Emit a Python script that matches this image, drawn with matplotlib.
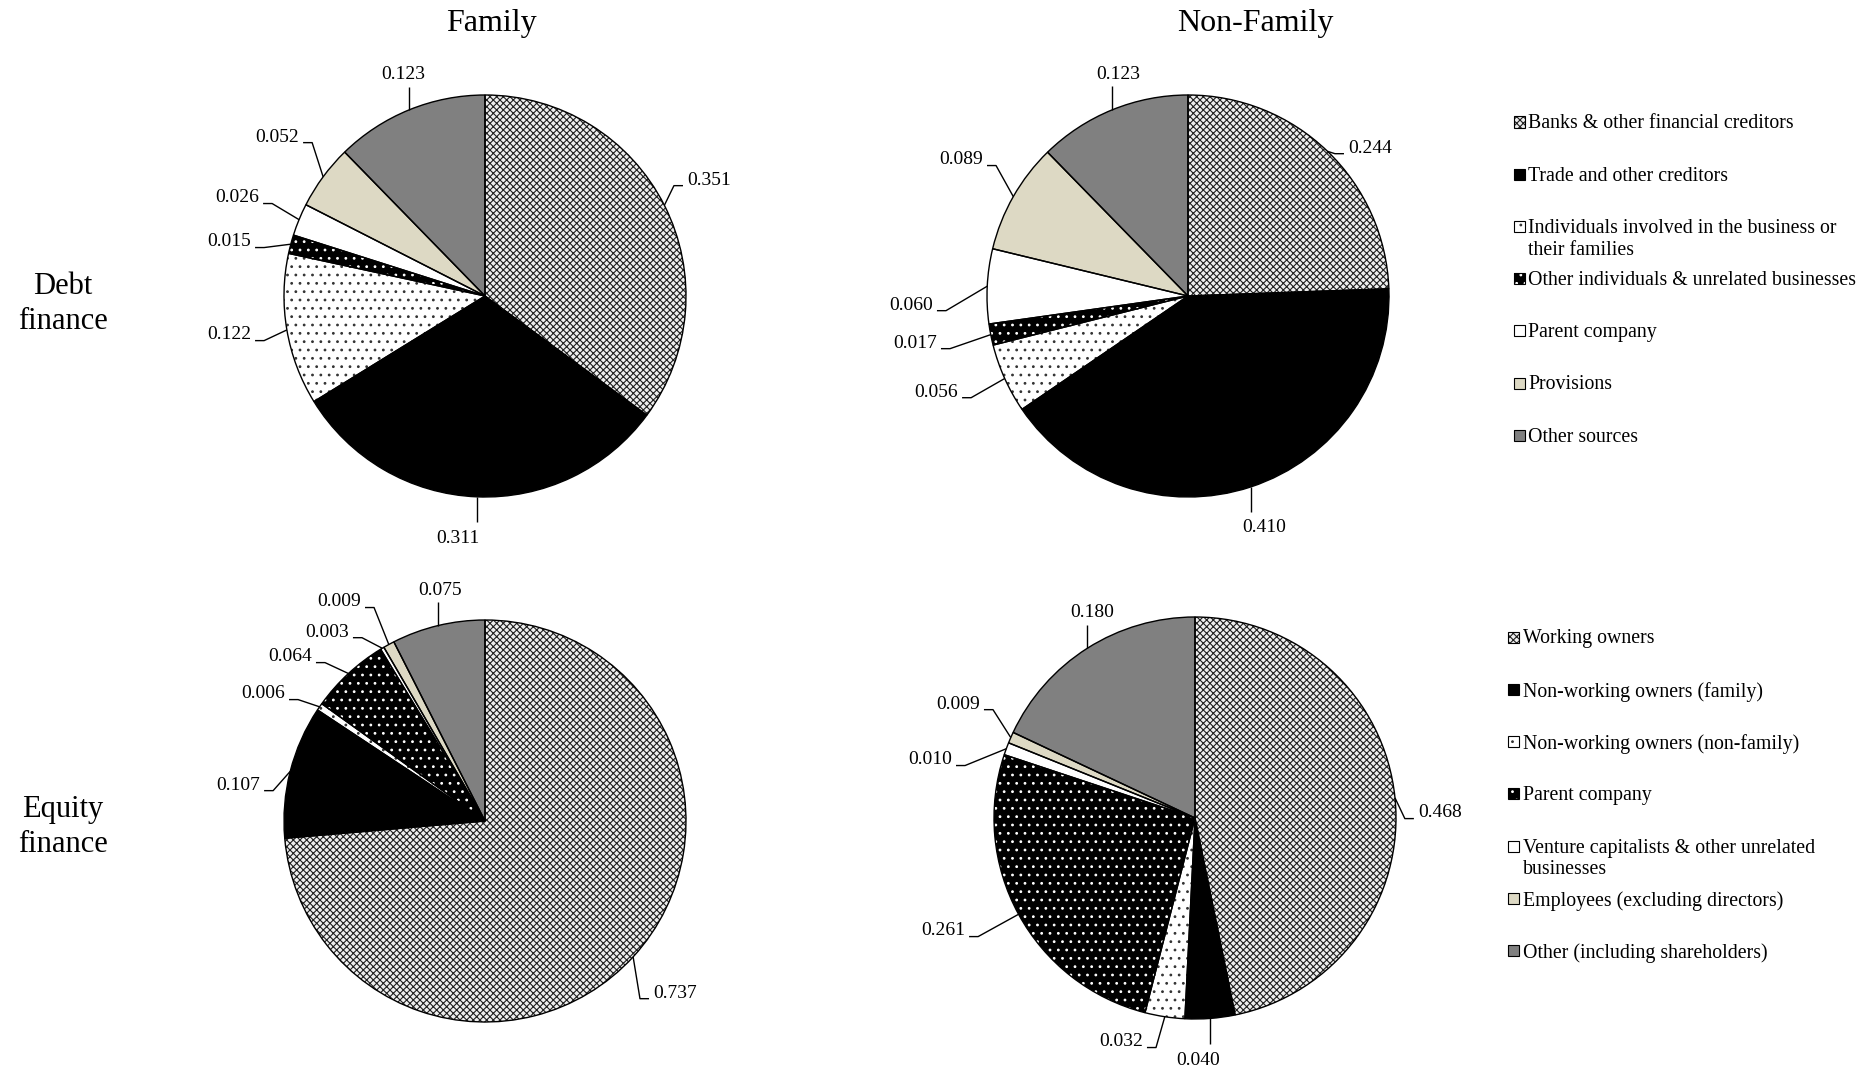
import matplotlib
matplotlib.use("Agg")
import matplotlib.pyplot as plt
from matplotlib.patches import Rectangle
import numpy as np

plt.rcParams['font.family'] = ['Liberation Serif', 'DejaVu Serif']
plt.rcParams['hatch.linewidth'] = 0.8

# ---------------------------------------------------------------- data
debt_categories = [
    "Banks & other financial creditors",
    "Trade and other creditors",
    "Individuals involved in the business or\ntheir families",
    "Other individuals & unrelated businesses",
    "Parent company",
    "Provisions",
    "Other sources",
]
equity_categories = [
    "Working owners",
    "Non-working owners (family)",
    "Non-working owners (non-family)",
    "Parent company",
    "Venture capitalists & other unrelated\nbusinesses",
    "Employees (excluding directors)",
    "Other (including shareholders)",
]
debt_family = [0.351, 0.311, 0.122, 0.015, 0.026, 0.052, 0.123]
debt_nonfamily = [0.244, 0.410, 0.056, 0.017, 0.060, 0.089, 0.123]
equity_family = [0.737, 0.107, 0.006, 0.064, 0.003, 0.009, 0.075]
equity_nonfamily = [0.468, 0.040, 0.032, 0.261, 0.010, 0.009, 0.180]

column_titles = ["Family", "Non-Family"]
row_titles = ["Debt\nfinance", "Equity\nfinance"]

# ---------------------------------------------------------------- styling
# fill, hatch, hatch colour for each slice position (shared by both legends)
slice_styles = [
    ("#eeeeee", "xxxxx", "#202020"),
    ("black", None, None),
    ("white", "..", "#333333"),
    ("black", "..", "white"),
    ("white", None, None),
    ("#ddd9c4", None, None),
    ("#808080", None, None),
]

# value-label placement, in units of pie radius (x, y, alignment)
debt_family_layout = [(1.005, 0.577, 'left'), (-0.134, -1.204, 'center'),
                      (-1.164, -0.194, 'right'), (-1.164, 0.269, 'right'),
                      (-1.124, 0.488, 'right'), (-0.925, 0.791, 'right'),
                      (-0.408, 1.10, 'center')]
debt_nonfamily_layout = [(0.796, 0.736, 'left'), (0.378, -1.154, 'center'),
                         (-1.144, -0.478, 'right'), (-1.249, -0.234, 'right'),
                         (-1.269, -0.045, 'right'), (-1.020, 0.677, 'right'),
                         (-0.348, 1.104, 'center')]
equity_family_layout = [(0.836, -0.856, 'left'), (-1.119, 0.179, 'right'),
                        (-0.995, 0.632, 'right'), (-0.861, 0.816, 'right'),
                        (-0.677, 0.940, 'right'), (-0.617, 1.090, 'right'),
                        (-0.224, 1.149, 'center')]
equity_nonfamily_layout = [(1.109, 0.025, 'left'), (0.015, -1.204, 'center'),
                           (-0.259, -1.114, 'right'), (-1.144, -0.562, 'right'),
                           (-1.209, 0.289, 'right'), (-1.070, 0.567, 'right'),
                           (-0.512, 1.020, 'center')]

W, H = 1869, 1070
R_PX = 201
SPAN = 1.6
fig = plt.figure(figsize=(W / 100, H / 100), dpi=100)


def fx(x):
    return x / W


def fy(y):
    return 1 - y / H


def style_patch(p, style):
    face, hatch, hcol = style
    p.set_facecolor(face)
    p.set_linewidth(0)
    if hatch:
        p.set_hatch(hatch)
        p.set_edgecolor(hcol)
    else:
        p.set_edgecolor('none')


def draw_pie(cx, cy, values, layout):
    half = SPAN * R_PX
    ax = fig.add_axes([(cx - half) / W, (H - cy - half) / H, 2 * half / W, 2 * half / H])
    fills, _ = ax.pie(values, startangle=90, counterclock=False, radius=1)
    for w, st in zip(fills, slice_styles):
        style_patch(w, st)
    outlines, _ = ax.pie(values, startangle=90, counterclock=False, radius=1,
                         wedgeprops=dict(fill=False, edgecolor='black', linewidth=1.0))
    ax.set_xlim(-SPAN, SPAN)
    ax.set_ylim(-SPAN, SPAN)
    ax.axis('off')

    for w, v, (lx, ly, ha) in zip(outlines, values, layout):
        ang = np.deg2rad((w.theta1 + w.theta2) / 2)
        px, py = np.cos(ang), np.sin(ang)
        ax.text(lx, ly, f"{v:.3f}", ha=ha, va='center', fontsize=14, clip_on=False)
        if ha == 'center':
            end_y = ly - 0.06 if ly > 0 else ly + 0.08
            xs, ys = [px, px], [py, end_y]
        else:
            sy = ly - 0.028
            sgn = 1 if ha == 'right' else -1
            xs = [px, lx + sgn * 0.065, lx + sgn * 0.02]
            ys = [py, sy, sy]
        ax.plot(xs, ys, color='black', lw=1.0, clip_on=False, solid_capstyle='butt')
    return ax


draw_pie(485, 296, debt_family, debt_family_layout)
draw_pie(1188, 296, debt_nonfamily, debt_nonfamily_layout)
draw_pie(485, 821, equity_family, equity_family_layout)
draw_pie(1195, 818, equity_nonfamily, equity_nonfamily_layout)

# column and row headings
for x, t in zip([491, 1255], column_titles):
    fig.text(fx(x), fy(23), t, ha='center', va='center', fontsize=23)
for y, t in zip([304, 827], row_titles):
    fig.text(fx(63), fy(y), t, ha='center', va='center', fontsize=22, linespacing=1.25)

LEGEND_FS = 14.3


def draw_legend(labels, box_x, text_x, y0, step):
    size = 11
    em = LEGEND_FS * 100 / 72
    for i, (lab, st) in enumerate(zip(labels, slice_styles)):
        yc = y0 + i * step
        r = Rectangle((fx(box_x), fy(yc + size / 2)), size / W, size / H,
                      transform=fig.transFigure)
        style_patch(r, st)
        fig.add_artist(r)
        fig.add_artist(Rectangle((fx(box_x), fy(yc + size / 2)), size / W, size / H,
                                 transform=fig.transFigure, fill=False,
                                 edgecolor='black', linewidth=0.8))
        fig.text(fx(text_x), fy(yc - 0.38 * em), lab, ha='left', va='top',
                 fontsize=LEGEND_FS, linespacing=1.2)


draw_legend(debt_categories, 1514, 1528, 122, 52.2)
draw_legend(equity_categories, 1508, 1523, 637, 52.3)

fig.savefig("out.png", dpi=100, facecolor='white')
